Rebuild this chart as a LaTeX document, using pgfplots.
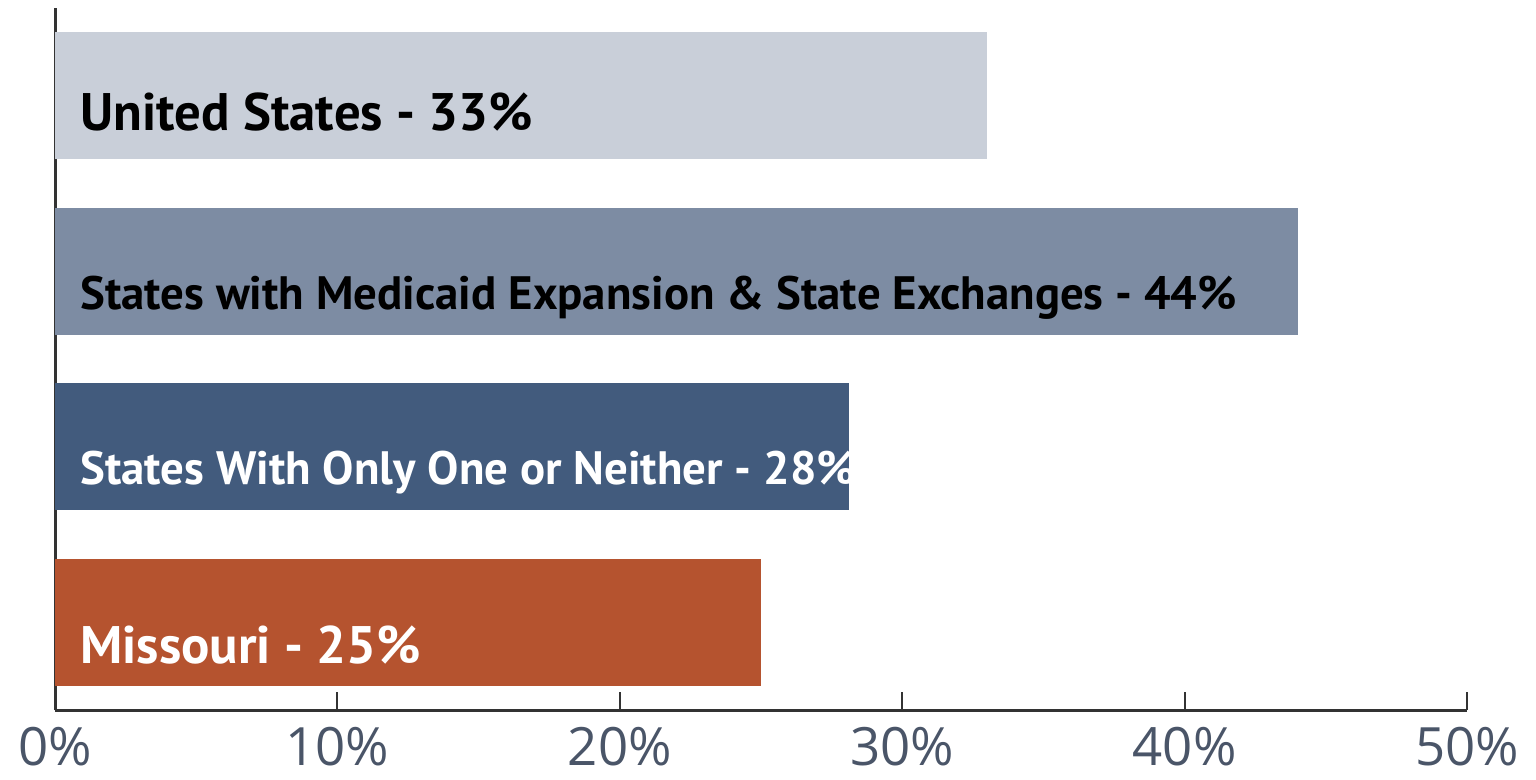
\documentclass[border=0pt]{standalone}
\usepackage{pgfplots}
\pgfplotsset{compat=1.18}
\usepackage{fontspec}
\setmainfont{Open Sans}
\newfontfamily\labfont{PT Sans}
\definecolor{usbar}{HTML}{C9CFD9}
\definecolor{medbar}{HTML}{7D8CA3}
\definecolor{onebar}{HTML}{425B7D}
\definecolor{mobar}{HTML}{B5532F}
\definecolor{ticktext}{HTML}{4A5568}
\definecolor{axisline}{HTML}{333333}

\begin{document}
\begin{tikzpicture}
\begin{axis}[
  scale only axis,
  width=706bp, height=351bp,
  xmin=0, xmax=50,
  ymin=-0.5, ymax=3.5,
  axis x line=bottom, axis y line=left,
  axis line style={-, axisline, line width=1.5bp},
  xtick={0,10,20,30,40,50},
  xticklabels={0\%,10\%,20\%,30\%,40\%,50\%},
  ytick=\empty,
  tick align=inside,
  major tick length=9bp,
  x tick style={axisline, line width=1bp},
  xticklabel style={font=\fontsize{26.5}{30}\selectfont, text=ticktext, anchor=north, inner sep=0pt, yshift=-8.5bp},
  /pgf/number format/assume math mode=true,
  xbar, bar width=0.725, bar shift=0pt,
  clip=false,
]
\addplot[draw=none, fill=mobar] coordinates {(25,0)};
\addplot[draw=none, fill=onebar] coordinates {(28.1,1)};
\addplot[draw=none, fill=medbar] coordinates {(44,2)};
\addplot[draw=none, fill=usbar] coordinates {(33,3)};

\begin{scope}[every node/.style={anchor=base west, inner sep=0pt, font=\labfont\bfseries\fontsize{23.5}{26}\selectfont}]
\node[text=black, font=\labfont\bfseries\fontsize{26.5}{28}\selectfont] at ([xshift=12.5bp, yshift=-17.5bp]axis cs:0,3) {United States - 33\%};
\node[text=black] at ([xshift=12.5bp, yshift=-19bp]axis cs:0,2) {States with Medicaid Expansion \& State Exchanges - 44\%};
\node[text=white] at ([xshift=12.5bp, yshift=-19bp]axis cs:0,1) {States With Only One or Neither - 28\%};
\node[text=white, font=\labfont\bfseries\fontsize{26.5}{28}\selectfont] at ([xshift=12.5bp, yshift=-20.5bp]axis cs:0,0) {Missouri - 25\%};
\end{scope}
\end{axis}
\pgfresetboundingbox
\path ([shift={(-27.5bp,-34.5bp)}]current axis.south west) rectangle ([shift={(34.5bp,4bp)}]current axis.north east);
\end{tikzpicture}
\end{document}
